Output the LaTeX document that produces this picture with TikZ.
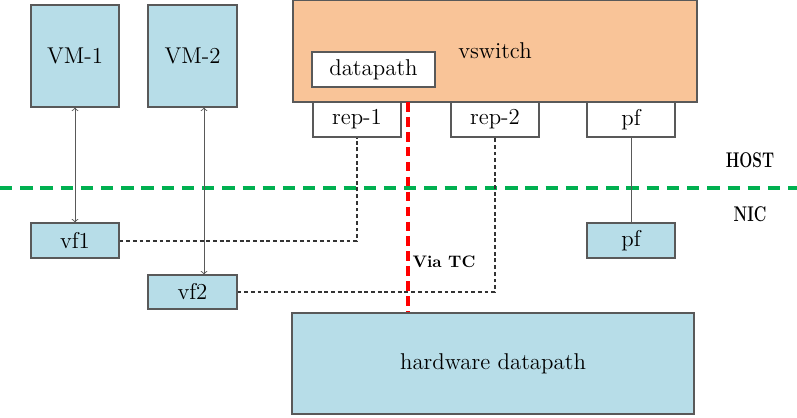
\documentclass[tikz,border=0pt]{standalone}
\usepackage{xcolor}
\usetikzlibrary{arrows}
\definecolor{boxblue}{RGB}{183,221,232}
\definecolor{boxorange}{RGB}{249,196,152}
\definecolor{boxline}{RGB}{89,89,89}
\definecolor{hostgreen}{RGB}{0,176,80}
\definecolor{tcred}{RGB}{255,0,0}

\tikzset{
  box/.style={draw=boxline, line width=0.6pt, minimum width=1.76cm, minimum height=0.7cm, inner sep=0pt, font=\fontsize{13}{15}\selectfont},
  bluebox/.style={box, fill=boxblue},
  whitebox/.style={box, fill=white},
  link/.style={draw=boxline, line width=0.5pt},
  tclink/.style={black!80, line width=0.7pt, dash pattern=on 2.2pt off 1.6pt},
  sidelabel/.style={font=\bfseries\fontsize{11}{13}\selectfont},
}

\begin{document}
\begin{tikzpicture}
\useasboundingbox[fill=white] (0,0) rectangle (15.94,-8.34);

% virtual machines
\node[bluebox, minimum height=2.04cm] (vm1) at (1.5,-1.12) {VM-1};
\node[bluebox, minimum width=1.78cm, minimum height=2.04cm] (vm2) at (3.85,-1.12) {VM-2};

% vswitch on the host
\node[box, fill=boxorange, minimum width=8.08cm, minimum height=2.04cm] (vswitch) at (9.9,-1.02) {vswitch};
\node[whitebox, minimum width=2.46cm] (datapath) at (7.47,-1.39) {datapath};
\node[whitebox] (rep1) at (7.14,-2.39) {rep-1};
\node[whitebox] (rep2) at (9.9,-2.39) {rep-2};
\node[whitebox] (pfhost) at (12.62,-2.39) {pf};

% nic side
\node[bluebox] (vf1) at (1.5,-4.81) {vf1};
\node[bluebox, minimum width=1.78cm, minimum height=0.68cm] (vf2) at (3.85,-5.84) {vf2};
\node[bluebox] (pfnic) at (12.62,-4.81) {pf};
\node[bluebox, minimum width=8.04cm, minimum height=2.02cm] (hwdp) at (9.86,-7.27) {hardware datapath};

% host / nic border
\draw[hostgreen, line width=1.8pt, dash pattern=on 7pt off 4.5pt] (0,-3.76) -- (15.94,-3.76);
\node[sidelabel] (host) at (15.0,-3.2) {\scalebox{0.8}[1.1]{HOST}};
\node[sidelabel] (nic) at (15.0,-4.28) {\scalebox{0.8}[1.1]{NIC}};

% links
\draw[link, <->, >=to] (vm1.south) -- (vf1.north);
\draw[link, <->, >=to] ([xshift=0.23cm]vm2.south) -- ([xshift=0.23cm]vm2.south |- vf2.north);
\draw[link] (pfhost.south) -- (pfnic.north);
\draw[tclink] ([yshift=-0.01cm]vf1.east) -| (rep1.south);
\draw[tclink] (vf2.east) -| (rep2.south);

% offload path
\coordinate (tctop) at (8.16,-2.04);
\draw[tcred, line width=1.8pt, dash pattern=on 5.5pt off 3pt] (tctop) -- (tctop |- hwdp.north);
\node[font=\bfseries\fontsize{9.5}{11}\selectfont] (viatc) at (8.88,-5.24) {Via TC};
\end{tikzpicture}
\end{document}
